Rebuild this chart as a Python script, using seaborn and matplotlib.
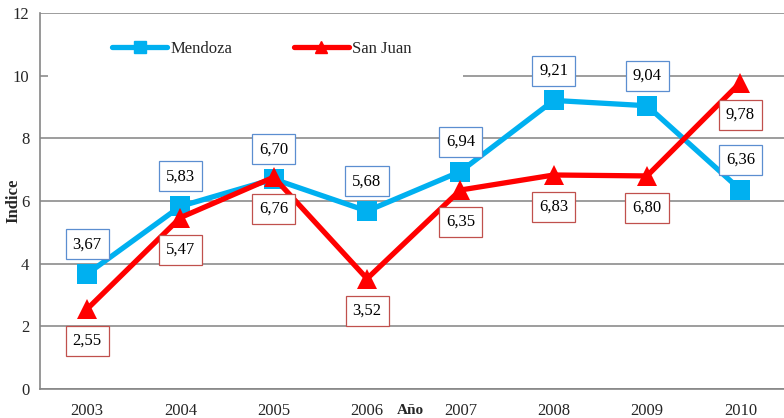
import matplotlib
matplotlib.use("Agg")
import matplotlib.pyplot as plt
import seaborn as sns
import pandas as pd
from matplotlib.lines import Line2D
from matplotlib.patches import Rectangle

years = ["2003", "2004", "2005", "2006", "2007", "2008", "2009", "2010"]
mendoza = [3.67, 5.83, 6.70, 5.68, 6.94, 9.21, 9.04, 6.36]
san_juan = [2.55, 5.47, 6.76, 3.52, 6.35, 6.83, 6.80, 9.78]
series_names = ["Mendoza", "San Juan"]
y_ticks = [0, 2, 4, 6, 8, 10, 12]

sns.set_theme(style="white")
plt.rcParams["font.family"] = ["Liberation Serif", "DejaVu Serif"]

df = pd.DataFrame({
    "pos": list(range(len(years))) * 2,
    "valor": mendoza + san_juan,
    "serie": [series_names[0]] * len(years) + [series_names[1]] * len(years),
})

colors = {"Mendoza": "#00B0F0", "San Juan": "#FF0000"}
box_edges = {"Mendoza": "#5B8ED0", "San Juan": "#C0504D"}

fig = plt.figure(figsize=(7.84, 4.18), dpi=100)
AX_L, AX_W = 40.4, 746.6
ax = fig.add_axes([AX_L / 784, 29 / 418, AX_W / 784, 376 / 418])

sns.lineplot(data=df, x="pos", y="valor", hue="serie", style="serie",
             palette=colors, markers={"Mendoza": "s", "San Juan": "^"},
             dashes=False, linewidth=3.8, markersize=15, markeredgewidth=0,
             legend=False, ax=ax, zorder=3)

# data labels
for name, vals, off in [("Mendoza", mendoza, 21.5), ("San Juan", san_juan, -23)]:
    for i, v in enumerate(vals):
        ax.annotate(f"{v:.2f}".replace(".", ","), (i, v), xytext=(0, off),
                    textcoords="offset points", ha="center", va="center",
                    fontsize=12, color="black", zorder=5,
                    bbox=dict(boxstyle="square,pad=0.42", fc="white",
                              ec=box_edges[name], lw=0.9))

ax.set_xlim(-0.5, len(years) - 0.5)
ax.set_ylim(0, 12)
ax.set_yticks(y_ticks)
ax.set_yticklabels([str(t) for t in y_ticks], fontsize=12)
ax.set_xticks(range(len(years)))
ax.set_xticklabels(years, fontsize=12)
ax.set_xticks([i + 0.5 for i in range(-1, len(years))], minor=True)
ax.tick_params(axis="x", which="major", length=0, pad=10)
ax.tick_params(axis="x", which="minor", length=5, color="#868686", direction="out")
ax.tick_params(axis="y", length=5, color="#868686", direction="out", pad=3)

ax.yaxis.grid(True, color="#8C8C8C", linewidth=1.2)
ax.xaxis.grid(False)
ax.set_axisbelow(True)
for s in ["top", "right"]:
    ax.spines[s].set_visible(False)
for s in ["left", "bottom"]:
    ax.spines[s].set_color("#868686")
    ax.spines[s].set_linewidth(1.2)

ax.set_xlabel("")
ax.set_ylabel("Indice", fontsize=12, fontweight="bold")
ax.yaxis.set_label_coords((21 - AX_L) / AX_W, 0.5)
fig.text(410 / 784, 1 - 410 / 418, "Año", fontsize=11, fontweight="bold",
         ha="center", va="center")

# legend white area (hides the 10 gridline behind the legend)
ax.add_patch(Rectangle(((48 - AX_L) / AX_W, 0.827), 415 / AX_W, 0.155,
                       transform=ax.transAxes, facecolor="white", edgecolor="none",
                       zorder=1))
handles = [Line2D([], [], color=colors[n], lw=3.8,
                  marker="s" if n == "Mendoza" else "^", markersize=8)
           for n in series_names]
ax.legend(handles, series_names, loc="center left",
          bbox_to_anchor=((112 - AX_L) / AX_W, (389 - 49) / 376),
          ncol=2, frameon=False, fontsize=12, handlelength=3.3,
          handletextpad=0.2, columnspacing=3.7, borderpad=0, borderaxespad=0)

fig.savefig("out.png", dpi=100)
